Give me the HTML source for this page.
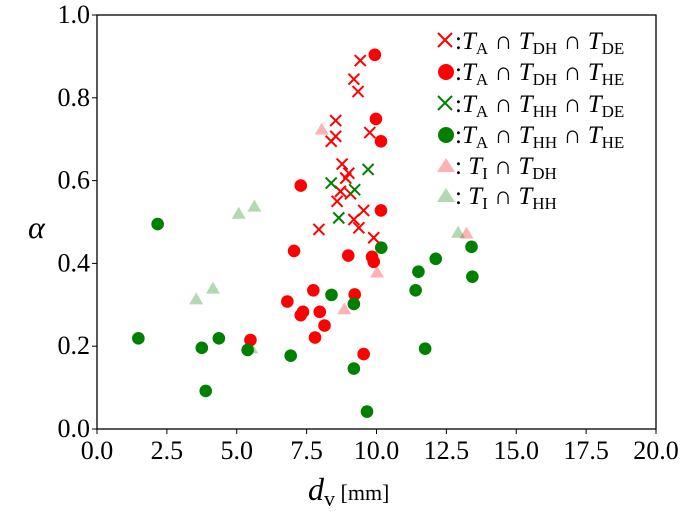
<!DOCTYPE html>
<html><head><meta charset="utf-8"><style>
body{margin:0;background:#fff}
svg{display:block;font-family:"Liberation Serif","DejaVu Serif",serif}
</style></head><body>
<svg id="chart" width="685" height="512">
<g id="plot"></g>
<g id="axes"></g>
<g id="legend"></g>
</svg>
<script>
const redX_x=[9.42,9.19,9.34,8.54,8.54,8.38,9.76,8.77,9.01,8.9,8.71,9.07,8.59,9.54,9.19,9.37,7.94,9.9];
const redX_y=[0.89,0.845,0.815,0.745,0.707,0.695,0.716,0.64,0.618,0.606,0.574,0.568,0.55,0.528,0.506,0.486,0.482,0.462];
const redO_x=[9.94,9.98,10.16,7.29,10.16,7.05,8.99,9.84,9.9,7.74,6.81,9.22,7.37,7.29,7.97,8.14,7.8,5.49,9.54];
const redO_y=[0.904,0.749,0.695,0.588,0.528,0.43,0.419,0.416,0.404,0.335,0.308,0.325,0.283,0.275,0.283,0.25,0.221,0.215,0.181];
const grnX_x=[9.7,8.38,9.22,8.65];
const grnX_y=[0.627,0.594,0.578,0.51];
const grnO_x=[2.17,10.17,12.12,11.5,11.4,8.39,9.19,1.48,4.36,3.75,5.39,6.93,11.74,9.19,3.89,9.66,13.4,13.43];
const grnO_y=[0.495,0.438,0.411,0.38,0.335,0.324,0.302,0.219,0.219,0.196,0.191,0.177,0.194,0.146,0.092,0.042,0.44,0.368];
const pinkT_x=[8.04,13.22,10.02,8.85];
const pinkT_y=[0.723,0.472,0.378,0.289];
const grnT_x=[12.92,3.55,4.15,5.07,5.63,5.52];
const grnT_y=[0.474,0.313,0.339,0.52,0.537,0.195];
const xTicks=[0,2.5,5,7.5,10,12.5,15,17.5,20];
const yTicks=[0,0.2,0.4,0.6,0.8,1.0];
const L=97,R=656,T=15,B=429;
const sx=v=>L+(v/20)*(R-L), sy=v=>B-(v/1)*(B-T);
const NS="http://www.w3.org/2000/svg";
function mk(tag,attrs,parent){const e=document.createElementNS(NS,tag);for(const k in attrs)e.setAttribute(k,attrs[k]);parent.appendChild(e);return e;}
const plot=document.getElementById('plot'),axes=document.getElementById('axes'),leg=document.getElementById('legend');
function cross(cx,cy,col,p,name){const g=mk('g',{},p);const s=5.5;
mk('line',{x1:cx-s,y1:cy-s,x2:cx+s,y2:cy+s,stroke:col,'stroke-width':2},g);mk('line',{x1:cx-s,y1:cy+s,x2:cx+s,y2:cy-s,stroke:col,'stroke-width':2},g);}
function dot(cx,cy,col,p,name){const e=mk('circle',{cx:cx,cy:cy,r:6.3,fill:col},p);}
function tri(cx,cy,col,p,name){const e=mk('polygon',{points:`${cx},${cy-7} ${cx-7},${cy+5} ${cx+7},${cy+5}`,fill:col,'fill-opacity':0.3},p);}
pinkT_x.forEach((v,i)=>tri(sx(v),sy(pinkT_y[i]),'#ff0000',plot,'point-ti-dh'));
grnT_x.forEach((v,i)=>tri(sx(v),sy(grnT_y[i]),'#008000',plot,'point-ti-hh'));
redO_x.forEach((v,i)=>dot(sx(v),sy(redO_y[i]),'#ff0000',plot,'point-ta-dh-he'));
grnO_x.forEach((v,i)=>dot(sx(v),sy(grnO_y[i]),'#008000',plot,'point-ta-hh-he'));
redX_x.forEach((v,i)=>cross(sx(v),sy(redX_y[i]),'#ff0000',plot,'point-ta-dh-de'));
grnX_x.forEach((v,i)=>cross(sx(v),sy(grnX_y[i]),'#008000',plot,'point-ta-hh-de'));
const fr=mk('rect',{x:L,y:T,width:R-L,height:B-T,fill:'none',stroke:'#000','stroke-width':1.3},axes);

xTicks.forEach(v=>{const x=sx(v);mk('line',{x1:x,y1:B,x2:x,y2:B+5,stroke:'#000'},axes);
const t=mk('text',{x:x,y:B+30,'text-anchor':'middle','font-size':26},axes);t.textContent=v.toFixed(1);
});
yTicks.forEach(v=>{const y=sy(v);mk('line',{x1:L-5,y1:y,x2:L,y2:y,stroke:'#000'},axes);
const t=mk('text',{x:L-7,y:y+8,'text-anchor':'end','font-size':26},axes);t.textContent=v.toFixed(1);
});
</script>
<svg style="position:absolute;left:0;top:0" width="685" height="512">
<text x="28" y="238" font-size="32" font-style="italic" font-family="Liberation Serif,serif">α</text>
<text x="308" y="500" font-size="32" font-family="Liberation Serif,serif"><tspan font-style="italic">d</tspan><tspan font-size="22" dy="6">v</tspan><tspan font-size="22" dy="-6"> [mm]</tspan></text>
<g font-family="Liberation Serif,serif" font-size="25">
<g><line x1="438" y1="33" x2="452" y2="47" stroke="#f00" stroke-width="2"/><line x1="438" y1="47" x2="452" y2="33" stroke="#f00" stroke-width="2"/>
<text x="455" y="49">:<tspan font-style="italic">T</tspan><tspan font-size="17" dy="5">A</tspan><tspan dy="-5"> ∩ </tspan><tspan font-style="italic">T</tspan><tspan font-size="17" dy="5">DH</tspan><tspan dy="-5"> ∩ </tspan><tspan font-style="italic">T</tspan><tspan font-size="17" dy="5">DE</tspan></text></g>
<g><circle cx="446" cy="72" r="8" fill="#f00"/>
<text x="455" y="80">:<tspan font-style="italic">T</tspan><tspan font-size="17" dy="5">A</tspan><tspan dy="-5"> ∩ </tspan><tspan font-style="italic">T</tspan><tspan font-size="17" dy="5">DH</tspan><tspan dy="-5"> ∩ </tspan><tspan font-style="italic">T</tspan><tspan font-size="17" dy="5">HE</tspan></text></g>
<g><line x1="438" y1="96" x2="452" y2="110" stroke="#008000" stroke-width="2"/><line x1="438" y1="110" x2="452" y2="96" stroke="#008000" stroke-width="2"/>
<text x="455" y="112">:<tspan font-style="italic">T</tspan><tspan font-size="17" dy="5">A</tspan><tspan dy="-5"> ∩ </tspan><tspan font-style="italic">T</tspan><tspan font-size="17" dy="5">HH</tspan><tspan dy="-5"> ∩ </tspan><tspan font-style="italic">T</tspan><tspan font-size="17" dy="5">DE</tspan></text></g>
<g><circle cx="446" cy="135" r="8" fill="#008000"/>
<text x="455" y="143">:<tspan font-style="italic">T</tspan><tspan font-size="17" dy="5">A</tspan><tspan dy="-5"> ∩ </tspan><tspan font-style="italic">T</tspan><tspan font-size="17" dy="5">HH</tspan><tspan dy="-5"> ∩ </tspan><tspan font-style="italic">T</tspan><tspan font-size="17" dy="5">HE</tspan></text></g>
<g><polygon points="446,158 437,172 455,172" fill="#f00" fill-opacity="0.3"/>
<text x="455" y="174">: <tspan font-style="italic">T</tspan><tspan font-size="17" dy="5">I</tspan><tspan dy="-5"> ∩ </tspan><tspan font-style="italic">T</tspan><tspan font-size="17" dy="5">DH</tspan></text></g>
<g><polygon points="446,188 437,202 455,202" fill="#008000" fill-opacity="0.3"/>
<text x="455" y="204">: <tspan font-style="italic">T</tspan><tspan font-size="17" dy="5">I</tspan><tspan dy="-5"> ∩ </tspan><tspan font-style="italic">T</tspan><tspan font-size="17" dy="5">HH</tspan></text></g>
</g>
</svg>
</body></html>
